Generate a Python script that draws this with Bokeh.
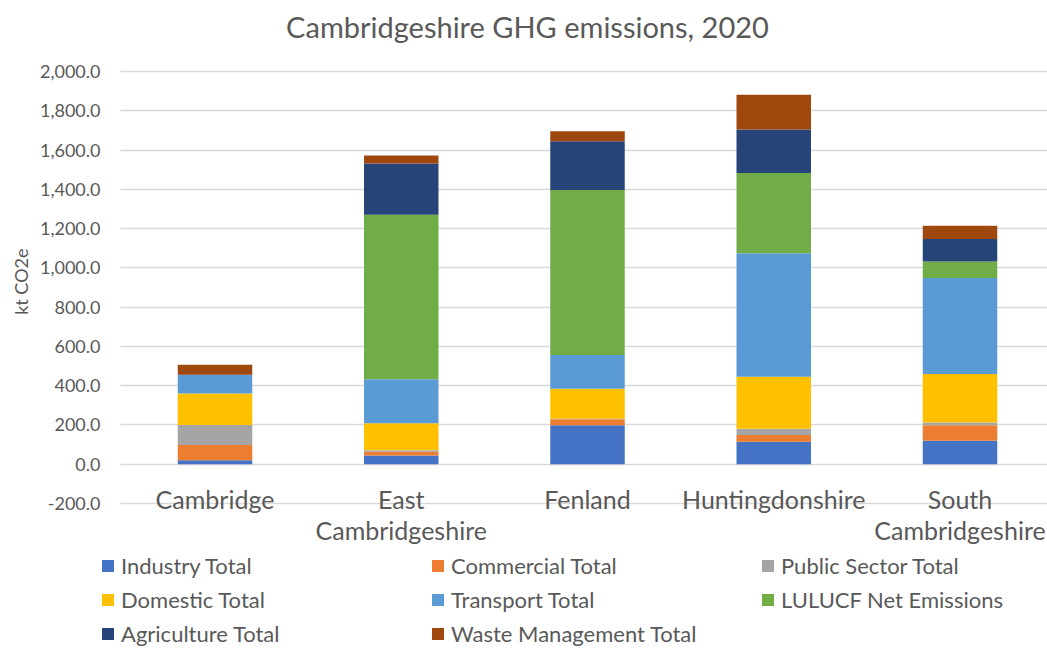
from bokeh.plotting import figure
from bokeh.models import (ColumnDataSource, Range1d, FixedTicker, NumeralTickFormatter,
                          Legend, LegendItem, Label, Title, BoxAnnotation)
from bokeh.core.properties import value
from bokeh.embed import file_html
from bokeh.resources import INLINE

# ---------------- data ----------------
districts = ["Cambridge", "East\nCambridgeshire", "Fenland", "Huntingdonshire", "South\nCambridgeshire"]
series_names = ["Industry Total", "Commercial Total", "Public Sector Total", "Domestic Total",
                "Transport Total", "LULUCF Net Emissions", "Agriculture Total", "Waste Management Total"]
industry = [20, 45, 199, 114, 119]
commercial = [78, 18, 30, 35, 80]
public_sector = [102, 8, 3, 32, 13]
domestic = [160, 138, 153, 264, 247]
transport = [94, 224, 171, 629, 489]
lulucf = [0, 838, 841, 409, 85]
agriculture = [2, 261, 248, 221, 114]
waste = [50, 40, 51, 177, 68]
y_ticks = [-200, 0, 200, 400, 600, 800, 1000, 1200, 1400, 1600, 1800, 2000]
chart_title = "Cambridgeshire GHG emissions, 2020"
y_title = "kt CO2e"

colors = ["#4472C4", "#ED7D31", "#A5A5A5", "#FFC000", "#5B9BD5", "#70AD47", "#264478", "#9E480E"]
FONT = "Lato"
TXT = "#595959"

# ---------------- geometry (pixels) ----------------
W, H = 1047, 648
FRAME_LEFT = 100      # frame starts where the legend starts
GRID_LEFT = 120       # gridlines start here
TOP_2000 = 71         # pixel row of the top gridline
BOT_M200 = 503        # pixel row of the bottom gridline
BAR_PITCH = 186.25
FIRST_CENTER = 214.5
TITLE_CX, TITLE_CY = 527, 26

k = (BOT_M200 - TOP_2000) / (y_ticks[-1] - y_ticks[0])   # px per unit
y_end = y_ticks[-1] + TOP_2000 / k
y_start = y_ticks[0] - (H - BOT_M200) / k
x_start = -(FIRST_CENTER - FRAME_LEFT) / BAR_PITCH
x_end = x_start + (W - FRAME_LEFT) / BAR_PITCH

keys = ["s%d" % i for i in range(len(series_names))]
xs = list(range(len(districts)))
src = ColumnDataSource(dict(
    x=xs, label=districts, ybase=[y_ticks[0]] * len(districts),
    s0=industry, s1=commercial, s2=public_sector, s3=domestic,
    s4=transport, s5=lulucf, s6=agriculture, s7=waste,
))

p = figure(width=W, height=H, output_backend="svg", toolbar_location=None,
           x_range=Range1d(x_start, x_end), y_range=Range1d(y_start, y_end),
           x_axis_location=None, min_border_left=FRAME_LEFT, min_border_right=0,
           min_border_top=0, min_border_bottom=0, background_fill_color="white",
           border_fill_color="white")
p.outline_line_color = None
p.xgrid.visible = False
p.ygrid.grid_line_color = "#D9D9D9"
p.ygrid.grid_line_width = 1.3

# y axis
yax = p.yaxis[0]
yax.ticker = FixedTicker(ticks=y_ticks)
yax.formatter = NumeralTickFormatter(format="0,0.0")
yax.axis_line_color = None
yax.major_tick_line_color = None
yax.minor_tick_line_color = None
yax.major_tick_out = 0
yax.major_tick_in = 0
yax.major_label_standoff = 0
yax.major_label_text_font = FONT
yax.major_label_text_font_size = "18px"
yax.major_label_text_color = TXT

# y axis title (left panel, placed along the axis)
p.add_layout(Title(text=y_title, align="right", offset=248, standoff=10,
                   text_font=FONT, text_font_size="18px", text_font_style="normal",
                   text_color=TXT), "left")

# keep the gridlines starting at GRID_LEFT
p.add_layout(BoxAnnotation(left=0, right=GRID_LEFT - FRAME_LEFT, left_units="screen",
                           right_units="screen", bottom=y_ticks[0] - 30, top=y_ticks[-1] + 30,
                           fill_color="white", fill_alpha=1, line_alpha=0))

# stacked bars
renderers = p.vbar_stack(keys, x="x", width=0.4, color=colors, source=src, line_width=0)

# category labels under the bottom gridline
p.text(x="x", y="ybase", text="label", source=src, text_align="center",
       text_baseline="top", y_offset=-20, text_font=value(FONT),
       text_font_size=value("25px"), text_color=TXT, text_line_height=1.05)

# chart title
p.add_layout(Label(x=TITLE_CX - FRAME_LEFT, y=H - TITLE_CY, x_units="screen", y_units="screen",
                   text=chart_title, text_align="center", text_baseline="middle",
                   text_font=FONT, text_font_size="29px", text_color=TXT))

# legend (3 columns, row-major)
items = [LegendItem(label=n, renderers=[r]) for n, r in zip(series_names, renderers)]
legend = Legend(items=items, orientation="horizontal", ncols=3, location=(0, 1),
                glyph_width=15, glyph_height=15, label_standoff=6, label_width=302,
                spacing=7, padding=0, margin=0, border_line_color=None,
                background_fill_alpha=0, label_text_font=FONT, label_text_font_size="22px",
                label_text_color=TXT, label_height=20)
p.add_layout(legend, "center")

open("out.html", "w").write(file_html(p, INLINE))
